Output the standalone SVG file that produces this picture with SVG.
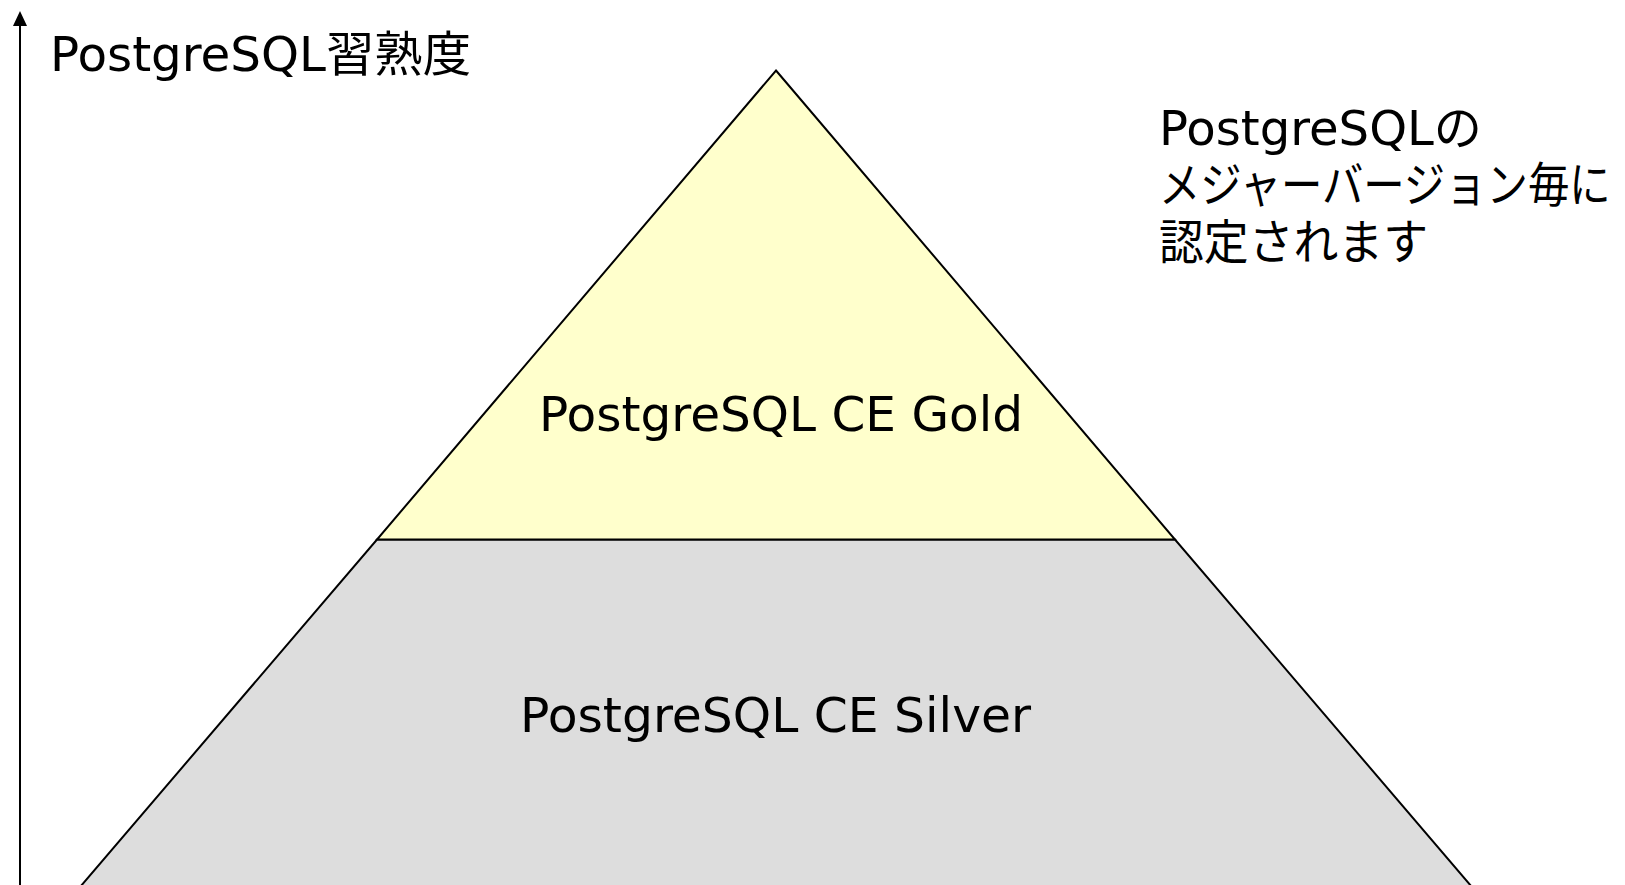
<svg xmlns="http://www.w3.org/2000/svg" width="1625" height="885" viewBox="0 0 1625 885">
<style>
.t{font-family:"DejaVu Sans","Noto Sans CJK JP",sans-serif;font-size:48px;fill:#000}
.tier{stroke:#000;stroke-width:2;stroke-linejoin:miter}
</style>
<rect width="1625" height="885" fill="#fff"/>
<g id="silver">
<polygon class="tier" points="377,539.5 1175,539.5 1474.5,890 77.5,890" fill="#DDDDDD"/>
<text class="t" x="520" y="732" textLength="511" lengthAdjust="spacingAndGlyphs">PostgreSQL CE Silver</text>
</g>
<g id="gold">
<polygon class="tier" points="776,70.5 1175,539.5 377,539.5" fill="#FFFFCC"/>
<text class="t" x="539" y="431" textLength="484" lengthAdjust="spacingAndGlyphs">PostgreSQL CE Gold</text>
</g>
<g id="connectors">
<line x1="20" y1="890" x2="20" y2="24" stroke="#000" stroke-width="2"/>
<polygon points="20,11 27,26 13,26" fill="#000"/>
</g>
<g id="axis-label">
<text class="t" x="50" y="71" textLength="421" lengthAdjust="spacingAndGlyphs">PostgreSQL習熟度</text>
</g>
<g id="note">
<text class="t" x="1159" y="145" textLength="323" lengthAdjust="spacingAndGlyphs">PostgreSQLの</text>
<text class="t" transform="translate(1159,202) scale(0.862,1)" x="0" y="0">メジャーバージョン毎に</text>
<text class="t" x="1159" y="259" textLength="269" lengthAdjust="spacingAndGlyphs">認定されます</text>
</g>
</svg>
